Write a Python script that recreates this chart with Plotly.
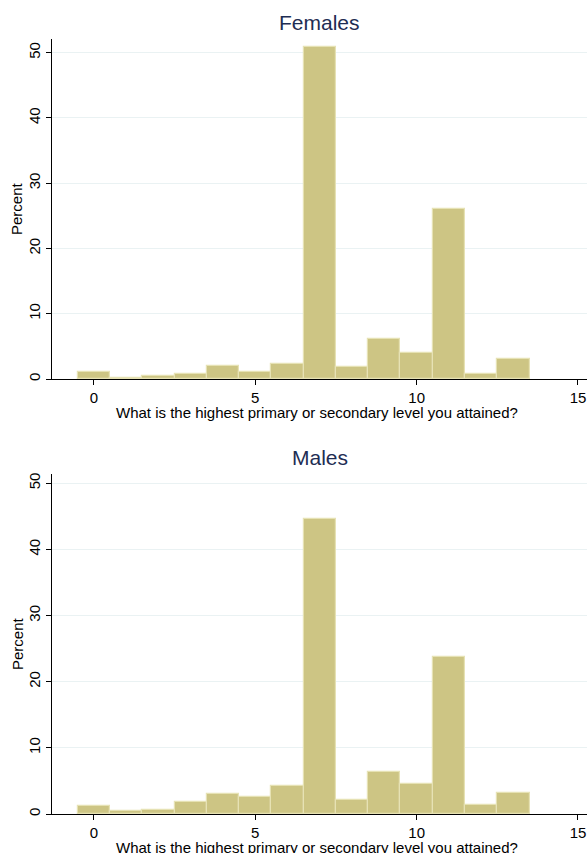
import plotly.graph_objects as go

levels = list(range(14))
females_pct = [1.05, 0.2, 0.45, 0.75, 1.95, 1.07, 2.3, 50.8, 1.8, 6.1, 4.0, 26.1, 0.75, 3.0]
males_pct = [1.27, 0.4, 0.66, 1.87, 2.98, 2.63, 4.3, 44.6, 2.18, 6.41, 4.49, 23.7, 1.42, 3.13]
panel_titles = ["Females", "Males"]
x_title = "What is the highest primary or secondary level you attained?"
y_title = "Percent"

W, H = 587, 853
fig = go.Figure()

FILL = "#cdc584"
EDGE = "#e6e2b4"
TITLE_C = "#1e2d53"
FONT = "Liberation Sans, Arial, sans-serif"

# plot areas in pixels (top, bottom)
areas = [(39, 379), (474, 814)]
left_px, right_px = 52, 587

for i, (vals, (top, bot)) in enumerate(zip([females_pct, males_pct], areas)):
    xa = "x" if i == 0 else "x2"
    ya = "y" if i == 0 else "y2"
    fig.add_trace(go.Bar(x=levels, y=vals, width=1, xaxis=xa, yaxis=ya,
                         marker=dict(color=FILL, line=dict(color=EDGE, width=1.2)),
                         showlegend=False, hoverinfo="x+y"))
    dom_y = [1 - bot / H, 1 - top / H]
    dom_x = [left_px / W, right_px / W]
    axkey = "xaxis" if i == 0 else "xaxis2"
    aykey = "yaxis" if i == 0 else "yaxis2"
    fig.update_layout({
        axkey: dict(domain=dom_x, anchor=ya, range=[-1.30, 15.28],
                    tickvals=[0, 5, 10, 15], ticks="outside", ticklen=5, tickcolor="#000",
                    showline=True, linecolor="#000", linewidth=1, showgrid=False,
                    zeroline=False, automargin=False,
                    tickfont=dict(family=FONT, size=15, color="#000")),
        aykey: dict(domain=dom_y, anchor=xa, range=[0, 52.1 if i == 0 else 51.4],
                    tickvals=[0, 10, 20, 30, 40, 50], ticks="outside", ticklen=5, tickcolor="#000",
                    tickangle=-90, showline=True, linecolor="#000", linewidth=1,
                    showgrid=True, gridcolor="#eaf2f3", gridwidth=1, zeroline=False,
                    automargin=False,
                    tickfont=dict(family=FONT, size=15, color="#000")),
    })
    # panel title
    fig.add_annotation(text=panel_titles[i], x=(left_px + right_px) / 2 / W,
                       y=1 - (top - 16) / H, xref="paper", yref="paper",
                       showarrow=False, yanchor="middle",
                       font=dict(family=FONT, size=21, color=TITLE_C))
    # x title
    fig.add_annotation(text=x_title, x=(left_px + right_px) / 2 / W - 3 / W,
                       y=1 - (bot + 33) / H, xref="paper", yref="paper",
                       showarrow=False, yanchor="middle",
                       font=dict(family=FONT, size=15, color="#000"))
    # y title
    fig.add_annotation(text=y_title, x=17 / W, y=1 - ((top + bot) / 2) / H,
                       xref="paper", yref="paper", showarrow=False, textangle=-90,
                       xanchor="center", yanchor="middle",
                       font=dict(family=FONT, size=15, color="#000"))

fig.update_layout(width=W, height=H, margin=dict(l=0, r=0, t=0, b=0),
                  paper_bgcolor="white", plot_bgcolor="white", bargap=0)

fig.write_html("out.html", config={"displayModeBar": False},
               post_script="document.body.style.margin='0';document.body.style.overflow='hidden';")
